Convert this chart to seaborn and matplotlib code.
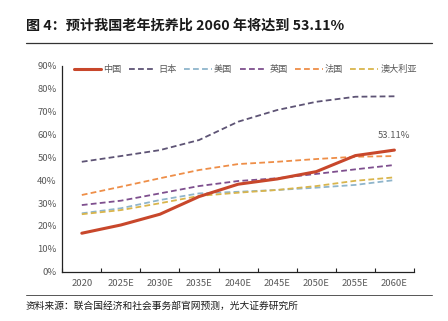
import matplotlib
matplotlib.use("Agg")
import matplotlib.pyplot as plt
import seaborn as sns
import pandas as pd
from matplotlib.lines import Line2D

sns.set_theme(style="white")
plt.rcParams['font.family'] = ['Noto Sans CJK SC', 'DejaVu Sans']

years = ["2020", "2025E", "2030E", "2035E", "2040E", "2045E", "2050E", "2055E", "2060E"]
china = [16.8, 20.4, 25.1, 32.8, 38.2, 40.5, 43.7, 50.7, 53.11]
japan = [48.0, 50.5, 53.1, 57.5, 65.5, 70.6, 74.2, 76.4, 76.6]
usa = [25.5, 27.7, 31.3, 34.2, 34.9, 35.7, 36.7, 37.9, 40.0]
uk = [29.1, 31.0, 34.2, 37.4, 39.6, 40.8, 42.7, 44.7, 46.6]
france = [33.5, 37.1, 40.8, 44.4, 47.0, 48.0, 49.2, 50.2, 50.5]
australia = [25.1, 26.9, 29.9, 33.1, 34.5, 35.7, 37.4, 39.7, 41.2]

series_names = ["中国", "日本", "美国", "英国", "法国", "澳大利亚"]
series_values = [china, japan, usa, uk, france, australia]
colors = ["#C8472B", "#5E5475", "#8FB5CB", "#7E4F8E", "#EE8E48", "#D9B54C"]

rows = []
for name, vals in zip(series_names, series_values):
    for y, v in zip(years, vals):
        rows.append({"year": y, "value": v, "country": name})
df = pd.DataFrame(rows)

fig = plt.figure(figsize=(4.48, 3.21), dpi=100)
ax = fig.add_axes([0.139, 0.1536, 0.785, 0.642])

# dashed series first, solid China line on top
draw_order = ["日本", "法国", "英国", "美国", "澳大利亚", "中国"]
for name in draw_order:
    i = series_names.index(name)
    sub = df[df["country"] == name]
    solid = name == "中国"
    sns.lineplot(data=sub, x="year", y="value", ax=ax, color=colors[i],
                 linewidth=2.2 if solid else 1.3, sort=False,
                 dashes=False, legend=False)
    if not solid:
        ax.lines[-1].set_dashes([3.2, 1.8])

ax.set_xlim(-0.5, 8.5)
ax.set_ylim(0, 90)
ax.set_yticks(range(0, 91, 10))
ax.set_yticklabels([f"{v}%" for v in range(0, 91, 10)])
ax.set_xticks(range(len(years)))
ax.set_xticklabels(years)
ax.set_xticks([i + 0.5 for i in range(-1, len(years))], minor=True)
ax.tick_params(axis="x", which="major", length=0, labelsize=6.8, colors="#595959", pad=5)
ax.tick_params(axis="x", which="minor", length=3, direction="in", color="#222222", width=0.8, bottom=True)
ax.tick_params(axis="y", length=0, labelsize=6.8, colors="#595959", pad=4)
ax.set_xlabel("")
ax.set_ylabel("")
for s in ["top", "right"]:
    ax.spines[s].set_visible(False)
for s in ["left", "bottom"]:
    ax.spines[s].set_color("#222222")
    ax.spines[s].set_linewidth(0.9)

ax.annotate(f"{china[-1]:.2f}%", xy=(8, china[-1]), xytext=(0, 7),
            textcoords="offset points", ha="center", va="bottom",
            fontsize=6.8, color="#595959")

handles = []
for name in series_names:
    i = series_names.index(name)
    if name == "中国":
        h = Line2D([], [], color=colors[i], linewidth=2.2)
    else:
        h = Line2D([], [], color=colors[i], linewidth=1.3, dashes=[3.2, 1.8])
    handles.append(h)
leg = ax.legend(handles, series_names, loc="upper center", bbox_to_anchor=(0.52, 1.02),
                ncol=6, frameon=False, fontsize=6.6, handlelength=3.0,
                handletextpad=0.25, columnspacing=0.8, labelcolor="#595959",
                borderpad=0.2, borderaxespad=0.2)

fig.text(26 / 448, 1 - 25.5 / 321, "图 4：预计我国老年抚养比 2060 年将达到 53.11%",
         fontsize=10.2, fontweight="bold", color="#1a1a1a", va="center", ha="left")
fig.add_artist(Line2D([26 / 448, 432 / 448], [1 - 43.3 / 321] * 2, color="#333333", linewidth=0.9))
fig.add_artist(Line2D([26 / 448, 432 / 448], [1 - 294.5 / 321] * 2, color="#555555", linewidth=0.7))
fig.text(26 / 448, 1 - 305.5 / 321, "资料来源：联合国经济和社会事务部官网预测，光大证券研究所",
         fontsize=7, color="#1a1a1a", va="center", ha="left")

fig.savefig("out.png", dpi=100)
